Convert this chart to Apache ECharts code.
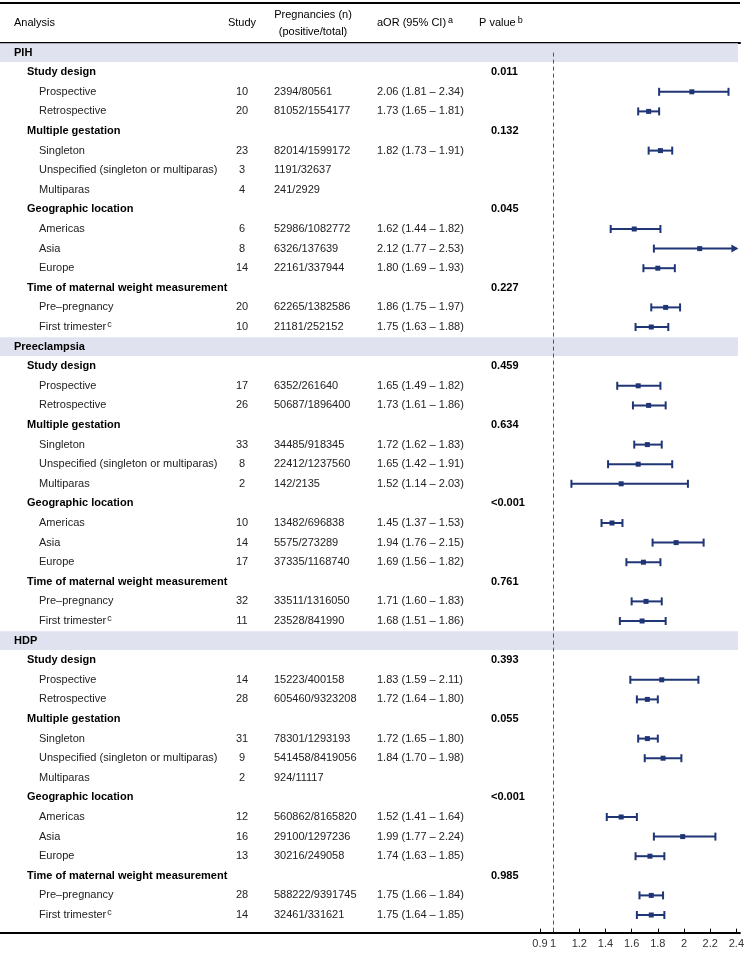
<!DOCTYPE html>
<html>
<head>
<meta charset="utf-8">
<script src="https://cdn.jsdelivr.net/npm/echarts@6/dist/echarts.min.js"></script>
<style>
html, body { margin: 0; padding: 0; background: #fff; }
#chart { width: 747px; height: 953px; }
</style>
</head>
<body>
<div id="chart"></div>
<script>
// Rows of the table, top to bottom. Level 0 = outcome band, 1 = subgroup heading, 2 = stratum
const rowLabels = [
    'PIH',
    'Study design', 'Prospective', 'Retrospective',
    'Multiple gestation', 'Singleton', 'Unspecified (singleton or multiparas)', 'Multiparas',
    'Geographic location', 'Americas', 'Asia', 'Europe',
    'Time of maternal weight measurement', 'Pre\u2013pregnancy', 'First trimester',
    'Preeclampsia',
    'Study design', 'Prospective', 'Retrospective',
    'Multiple gestation', 'Singleton', 'Unspecified (singleton or multiparas)', 'Multiparas',
    'Geographic location', 'Americas', 'Asia', 'Europe',
    'Time of maternal weight measurement', 'Pre\u2013pregnancy', 'First trimester',
    'HDP',
    'Study design', 'Prospective', 'Retrospective',
    'Multiple gestation', 'Singleton', 'Unspecified (singleton or multiparas)', 'Multiparas',
    'Geographic location', 'Americas', 'Asia', 'Europe',
    'Time of maternal weight measurement', 'Pre\u2013pregnancy', 'First trimester'
];
const rowLevels = [
    0, 1, 2, 2, 1, 2, 2, 2, 1, 2, 2, 2, 1, 2, 2,
    0, 1, 2, 2, 1, 2, 2, 2, 1, 2, 2, 2, 1, 2, 2,
    0, 1, 2, 2, 1, 2, 2, 2, 1, 2, 2, 2, 1, 2, 2
];
// footnote letter shown after a label
const rowNotes = [
    '', '', '', '', '', '', '', '', '', '', '', '', '', '', 'c',
    '', '', '', '', '', '', '', '', '', '', '', '', '', '', 'c',
    '', '', '', '', '', '', '', '', '', '', '', '', '', '', 'c'
];
const studies = [
    null, null, 10, 20, null, 23, 3, 4, null, 6, 8, 14, null, 20, 10,
    null, null, 17, 26, null, 33, 8, 2, null, 10, 14, 17, null, 32, 11,
    null, null, 14, 28, null, 31, 9, 2, null, 12, 16, 13, null, 28, 14
];
const pregnancies = [
    '', '', '2394/80561', '81052/1554177', '', '82014/1599172', '1191/32637', '241/2929',
    '', '52986/1082772', '6326/137639', '22161/337944', '', '62265/1382586', '21181/252152',
    '', '', '6352/261640', '50687/1896400', '', '34485/918345', '22412/1237560', '142/2135',
    '', '13482/696838', '5575/273289', '37335/1168740', '', '33511/1316050', '23528/841990',
    '', '', '15223/400158', '605460/9323208', '', '78301/1293193', '541458/8419056', '924/11117',
    '', '560862/8165820', '29100/1297236', '30216/249058', '', '588222/9391745', '32461/331621'
];
const aorValues = [
    null, null, 2.06, 1.73, null, 1.82, null, null, null, 1.62, 2.12, 1.80, null, 1.86, 1.75,
    null, null, 1.65, 1.73, null, 1.72, 1.65, 1.52, null, 1.45, 1.94, 1.69, null, 1.71, 1.68,
    null, null, 1.83, 1.72, null, 1.72, 1.84, null, null, 1.52, 1.99, 1.74, null, 1.75, 1.75
];
const ciLower = [
    null, null, 1.81, 1.65, null, 1.73, null, null, null, 1.44, 1.77, 1.69, null, 1.75, 1.63,
    null, null, 1.49, 1.61, null, 1.62, 1.42, 1.14, null, 1.37, 1.76, 1.56, null, 1.60, 1.51,
    null, null, 1.59, 1.64, null, 1.65, 1.70, null, null, 1.41, 1.77, 1.63, null, 1.66, 1.64
];
const ciUpper = [
    null, null, 2.34, 1.81, null, 1.91, null, null, null, 1.82, 2.53, 1.93, null, 1.97, 1.88,
    null, null, 1.82, 1.86, null, 1.83, 1.91, 2.03, null, 1.53, 2.15, 1.82, null, 1.83, 1.86,
    null, null, 2.11, 1.80, null, 1.80, 1.98, null, null, 1.64, 2.24, 1.85, null, 1.84, 1.85
];
const pValues = [
    '', '0.011', '', '', '0.132', '', '', '', '0.045', '', '', '', '0.227', '', '',
    '', '0.459', '', '', '0.634', '', '', '', '<0.001', '', '', '', '0.761', '', '',
    '', '0.393', '', '', '0.055', '', '', '', '<0.001', '', '', '', '0.985', '', ''
];
const tickValues = [0.9, 1, 1.2, 1.4, 1.6, 1.8, 2, 2.2, 2.4];
const xMin = 0.9;
const xMax = 2.4;

// layout
const FONT = '"Liberation Sans", Arial, sans-serif';
const ROW_H = 19.6;
const GRID_TOP = 42.8;
const Y_MIN = -0.5;
const Y_MAX = 44.9;
const GRID_H = (Y_MAX - Y_MIN) * ROW_H;
const TABLE_W = 740;
const PLOT_LEFT = 540;
const PLOT_W = 198;
const INDENT = [14, 27, 39];
const COL_STUDY = 242;
const COL_PREG = 274;
const COL_AOR = 377;
const COL_P = 491;
const HEAD_P = 479;
const NAVY = '#1f3575';

function fmt(v) { return v.toFixed(2); }

const tableData = rowLabels.map((_, i) => [0, i]);
const forestData = [];
aorValues.forEach((v, i) => {
    if (v !== null) forestData.push([i, v, ciLower[i], ciUpper[i]]);
});

function renderRow(params, api) {
    const i = params.dataIndex;
    const y = api.coord([0, i])[1];
    const level = rowLevels[i];
    const children = [];
    if (level === 0) {
        children.push({
            type: 'rect',
            shape: { x: 0, y: y - ROW_H / 2 + 0.4, width: TABLE_W - 2, height: ROW_H - 0.8 },
            style: { fill: '#e0e3ef' }
        });
    }
    const labelText = rowNotes[i] ? '{t|' + rowLabels[i] + '}{s|' + rowNotes[i] + '}' : '{t|' + rowLabels[i] + '}';
    children.push({
        type: 'text',
        style: {
            text: labelText, x: INDENT[level], y: y,
            align: 'left', verticalAlign: 'middle',
            rich: {
                t: { fontFamily: FONT, fontSize: 11, lineHeight: 14, fontWeight: level < 2 ? 'bold' : 'normal', fill: level < 2 ? '#000' : '#222' },
                s: { fontFamily: FONT, fontSize: 9, lineHeight: 9, verticalAlign: 'top', fill: '#222', padding: [0, 0, 0, 1] }
            }
        }
    });
    const cellStyle = { fontFamily: FONT, fontSize: 11, fill: '#222', verticalAlign: 'middle', y: y };
    if (studies[i] !== null) {
        children.push({ type: 'text', style: Object.assign({}, cellStyle, { text: String(studies[i]), x: COL_STUDY, align: 'center' }) });
    }
    if (pregnancies[i]) {
        children.push({ type: 'text', style: Object.assign({}, cellStyle, { text: pregnancies[i], x: COL_PREG, align: 'left' }) });
    }
    if (aorValues[i] !== null) {
        const txt = fmt(aorValues[i]) + ' (' + fmt(ciLower[i]) + ' \u2013 ' + fmt(ciUpper[i]) + ')';
        children.push({ type: 'text', style: Object.assign({}, cellStyle, { text: txt, x: COL_AOR, align: 'left' }) });
    }
    if (pValues[i]) {
        children.push({ type: 'text', style: Object.assign({}, cellStyle, { text: pValues[i], x: COL_P, align: 'left', fontWeight: 'bold', fill: '#000' }) });
    }
    return { type: 'group', children: children };
}

function renderForest(params, api) {
    const row = api.value(0);
    const hi = api.value(3);
    const mid = api.coord([api.value(1), row]);
    const left = api.coord([api.value(2), row]);
    const right = api.coord([Math.min(hi, xMax), row]);
    const y = mid[1];
    const line = { stroke: NAVY, lineWidth: 2 };
    const children = [
        { type: 'line', shape: { x1: left[0], y1: y, x2: right[0], y2: y }, style: line },
        { type: 'line', shape: { x1: left[0], y1: y - 4, x2: left[0], y2: y + 4 }, style: line }
    ];
    if (hi > xMax) {
        children.push({
            type: 'polygon',
            shape: { points: [[right[0] + 2, y], [right[0] - 5, y - 4], [right[0] - 5, y + 4]] },
            style: { fill: NAVY }
        });
    } else {
        children.push({ type: 'line', shape: { x1: right[0], y1: y - 4, x2: right[0], y2: y + 4 }, style: line });
    }
    children.push({ type: 'rect', shape: { x: mid[0] - 2.5, y: y - 2.5, width: 5, height: 5 }, style: { fill: NAVY } });
    return { type: 'group', children: children };
}

const headStyle = { fontFamily: FONT, fontSize: 11, fill: '#000', verticalAlign: 'middle' };
const supRich = {
    t: { fontFamily: FONT, fontSize: 11, lineHeight: 14, fill: '#000' },
    s: { fontFamily: FONT, fontSize: 9, lineHeight: 9, verticalAlign: 'top', fill: '#000', padding: [0, 0, 0, 2] }
};

const chart = echarts.init(document.getElementById('chart'));
chart.setOption({
    animation: false,
    backgroundColor: '#fff',
    grid: [
        { left: 0, top: GRID_TOP, width: TABLE_W, height: GRID_H },
        { left: PLOT_LEFT, top: GRID_TOP, width: PLOT_W, height: GRID_H }
    ],
    xAxis: [
        {
            gridIndex: 0, type: 'value', min: 0, max: TABLE_W, position: 'bottom',
            axisLine: { show: true, onZero: false, lineStyle: { color: '#000', width: 1.8 } },
            axisTick: { show: false }, axisLabel: { show: false }, splitLine: { show: false }
        },
        {
            gridIndex: 0, type: 'value', min: 0, max: TABLE_W, position: 'top',
            axisLine: { show: true, onZero: false, lineStyle: { color: '#000', width: 2 } },
            axisTick: { show: false }, axisLabel: { show: false }, splitLine: { show: false }
        },
        {
            gridIndex: 1, type: 'value', min: xMin, max: xMax, position: 'bottom',
            axisLine: { show: false, onZero: false },
            axisTick: { show: true, inside: true, length: 4, customValues: tickValues, lineStyle: { color: '#000', width: 1 } },
            axisLabel: {
                customValues: tickValues, margin: 6, color: '#333',
                fontFamily: FONT, fontSize: 11,
                formatter: v => String(v)
            },
            splitLine: { show: false }
        }
    ],
    yAxis: [
        { gridIndex: 0, type: 'value', min: Y_MIN, max: Y_MAX, inverse: true, show: false },
        { gridIndex: 1, type: 'value', min: Y_MIN, max: Y_MAX, inverse: true, show: false }
    ],
    graphic: [
        { type: 'line', shape: { x1: 0, y1: 3, x2: TABLE_W, y2: 3 }, style: { stroke: '#000', lineWidth: 2 } },
        { type: 'text', style: Object.assign({}, headStyle, { text: 'Analysis', x: INDENT[0], y: 23, align: 'left' }) },
        { type: 'text', style: Object.assign({}, headStyle, { text: 'Study', x: COL_STUDY, y: 23, align: 'center' }) },
        { type: 'text', style: Object.assign({}, headStyle, { text: 'Pregnancies (n)', x: COL_PREG + 39, y: 15, align: 'center' }) },
        { type: 'text', style: Object.assign({}, headStyle, { text: '(positive/total)', x: COL_PREG + 39, y: 32, align: 'center' }) },
        { type: 'text', style: { text: '{t|aOR (95% CI)}{s|a}', x: COL_AOR, y: 23, align: 'left', verticalAlign: 'middle', rich: supRich } },
        { type: 'text', style: { text: '{t|P value}{s|b}', x: HEAD_P, y: 23, align: 'left', verticalAlign: 'middle', rich: supRich } }
    ],
    series: [
        {
            name: 'table', type: 'custom', xAxisIndex: 0, yAxisIndex: 0,
            silent: true, clip: false,
            renderItem: renderRow, data: tableData, z: 1
        },
        {
            name: 'aOR', type: 'custom', xAxisIndex: 2, yAxisIndex: 1,
            silent: true, clip: false,
            encode: { x: [1, 2, 3], y: 0 },
            renderItem: renderForest, data: forestData, z: 3,
            markLine: {
                silent: true, symbol: 'none', z: 2,
                label: { show: false },
                lineStyle: { color: '#555', width: 1, type: [4, 3] },
                data: [[{ coord: [1, 0] }, { coord: [1, Y_MAX] }]]
            }
        }
    ]
});
</script>
</body>
</html>
